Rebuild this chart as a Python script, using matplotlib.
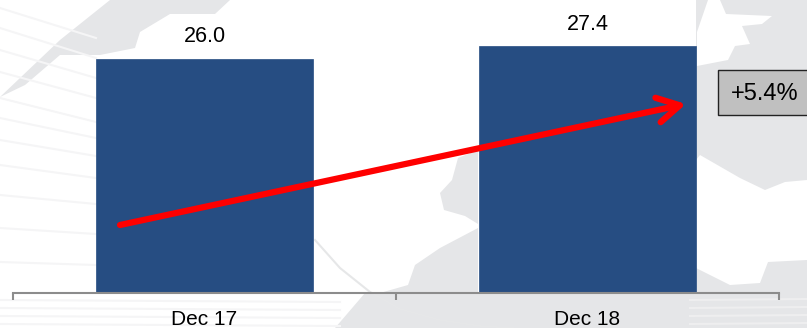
import matplotlib.pyplot as plt
from matplotlib.patches import Polygon, Rectangle
import numpy as np

plt.rcParams['font.family'] = ['Liberation Sans', 'DejaVu Sans']

categories = ['Dec 17', 'Dec 18']
values = [26.0, 27.4]
value_labels = ['26.0', '27.4']
growth_label = '+5.4%'

bar_color = '#264d82'
land_color = '#e5e6e8'
stripe_color = '#f5f5f6'

fig = plt.figure(figsize=(8.07, 3.28), dpi=100, facecolor='white')


# axes in pixel coords of the picture, for background and overlay
def pixel_axes(z):
    a = fig.add_axes([0, 0, 1, 1], zorder=z)
    a.set_xlim(0, 807)
    a.set_ylim(328, 0)
    a.axis('off')
    a.patch.set_alpha(0)
    return a


bg = pixel_axes(0)

# stripes of the globe
for y0, y1 in [(8, 38), (28, 58), (50, 78), (72, 98), (98, 122), (118, 138), (140, 156), (165, 178), (195, 204), (228, 234), (262, 265)]:
    bg.plot([0, 96], [y0, y1], color=stripe_color, lw=1.5)
for y0 in [300, 308, 316, 324]:
    bg.plot([0, 340], [y0, y0 + 2], color=stripe_color, lw=1.5)
    bg.plot([690, 807], [y0, y0 - 1], color='#eeeeef', lw=1.5)

# rough land shapes
land = [
    [(0, 97), (60, 40), (110, 0), (230, 0), (215, 14), (170, 14), (140, 32), (135, 48), (100, 55), (60, 55), (25, 85)],
    [(478, 150), (458, 158), (452, 180), (440, 193), (444, 210), (465, 216), (478, 224)],
    [(478, 228), (440, 248), (415, 265), (408, 285), (380, 293), (478, 293)],
    [(696, 0), (807, 0), (807, 180), (785, 182), (765, 190), (740, 178), (700, 155), (696, 160)],
    [(335, 328), (365, 293), (807, 293), (807, 328)],
    [(696, 268), (730, 285), (760, 283), (768, 262), (807, 260), (807, 293), (696, 293)],
]
for pts in land:
    bg.add_patch(Polygon(pts, closed=True, facecolor=land_color, edgecolor='none'))

# white islands over the grey part on the right
islands = [
    [(697, 32), (708, 0), (720, 0), (726, 14), (772, 16), (762, 24), (742, 26), (750, 44), (735, 46), (728, 60), (697, 66)],
]
for pts in islands:
    bg.add_patch(Polygon(pts, closed=True, facecolor='white', edgecolor='none'))

# arc of the globe
t = np.array([315, 340, 370, 400, 440, 480, 530])
arc = np.array([240, 268, 292, 309, 320, 326, 329])
bg.plot(t, arc, color='#e6e7e8', lw=1.5)

ax = fig.add_axes([13 / 807, 35 / 328, 766 / 807, 293 / 328], zorder=1)
ax.patch.set_alpha(0)
x = np.arange(len(categories))
ax.bar(x, values, width=0.567, color=bar_color, edgecolor=bar_color, linewidth=0.5)
for xi, v, s in zip(x, values, value_labels):
    ax.annotate(s, (xi, v), xytext=(0, 8.5), textcoords='offset points', ha='center', va='bottom', fontsize=15.5, color='black')

ax.set_xlim(-0.5, 1.5)
ax.set_ylim(0, 293 / 9)
ax.set_yticks([])
for s in ['top', 'left', 'right']:
    ax.spines[s].set_visible(False)
ax.spines['bottom'].set_color('#8c8c8c')
ax.spines['bottom'].set_linewidth(1.5)
ax.set_xticks([-0.5, 0.5, 1.5])
ax.set_xticklabels([])
ax.tick_params(axis='x', which='major', length=5, width=1.5, color='#8c8c8c')
ax.set_xticks(x, minor=True)
ax.set_xticklabels(categories, minor=True, fontsize=15)
ax.tick_params(axis='x', which='minor', length=0, pad=12)

fg = pixel_axes(2)
fg.annotate('', xy=(686, 104), xytext=(120, 225),
            arrowprops=dict(arrowstyle='->,head_length=1.6,head_width=0.9', color='#ff0000', lw=4.5, shrinkA=0, shrinkB=0))
fg.add_patch(Rectangle((718, 70), 100, 45, facecolor='#c0c0c0', edgecolor='#222222', linewidth=1))
fg.text(764.5, 94, growth_label, ha='center', va='center', fontsize=17, color='black')

plt.savefig('out.png', dpi=100)
